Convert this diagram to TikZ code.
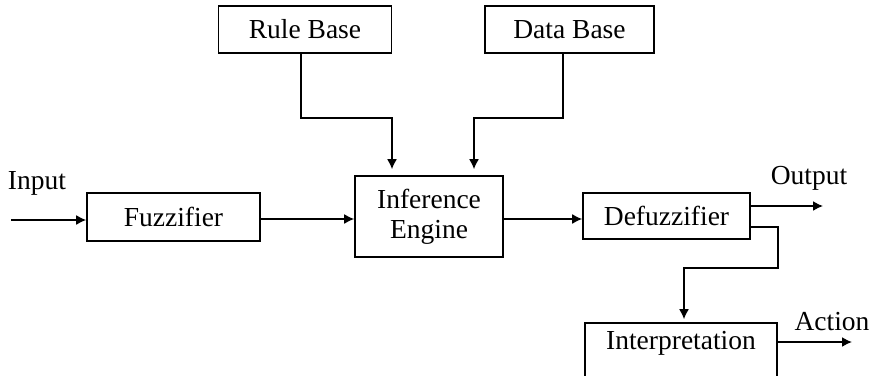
\documentclass[tikz,border=0pt]{standalone}
\usepackage{fontspec}
\setmainfont{Liberation Serif}
\usetikzlibrary{arrows.meta}
\begin{document}
\begin{tikzpicture}[x=1pt,y=-1pt,
  blk/.style={draw,line width=1.6pt,inner sep=0pt,align=center,
    font=\fontsize{27.5}{30}\selectfont},
  lbl/.style={inner sep=0pt,font=\fontsize{27.5}{30}\selectfont},
  arr/.style={line width=1.6pt,-{Latex[length=10pt,width=10pt]}}]
\useasboundingbox (0,0) rectangle (874,375);
\clip (0,0) rectangle (874,375);

% blocks
\node[blk,minimum width=173,minimum height=47] (rule) at (305,29.5) {Rule Base};
\node[blk,minimum width=169,minimum height=47] (data) at (569.5,29.5) {Data Base};
\node[blk,minimum width=173,minimum height=48] (fuzz) at (173.5,217) {Fuzzifier};
\node[blk,minimum width=148,minimum height=81] (inf) at (429,216.5) {Inference\\Engine};
\node[blk,minimum width=167,minimum height=46] (defuzz) at (666.5,216) {Defuzzifier};
\node[blk,minimum width=192,minimum height=56] (interp) at (681,351) {};
\node[lbl] (interpT) at (681,343) {Interpretation};

% free labels
\node[lbl] (inlbl) at (37,183) {Input};
\node[lbl] (outlbl) at (809,178) {Output};
\node[lbl] (actlbl) at (832,322) {Action};

% helper points
\coordinate (inL) at (11,220);
\coordinate (r1) at (392,118);
\coordinate (d1) at (474,118);
\coordinate (outR) at (823,206);
\coordinate (b1) at (778,227);
\coordinate (b2) at (684,268);
\coordinate (actR) at (852,342);

% connectors
\draw[arr] (inL) -- (inL -| fuzz.west);
\draw[arr] ([yshift=-2pt]fuzz.east) -- ([yshift=-2pt]fuzz.east -| inf.west);
\draw[arr] ([yshift=-2.5pt]inf.east) -- ([yshift=-2.5pt]inf.east -| defuzz.west);
\draw[arr,shorten >=6pt] ([xshift=-4pt]rule.south) |- (r1) -- (r1 |- inf.north);
\draw[arr,shorten >=6pt] ([xshift=-6.5pt]data.south) |- (d1) -- (d1 |- inf.north);
\draw[arr] (outR -| defuzz.east) -- (outR);
\draw[arr,shorten >=3pt] (b1 -| defuzz.east) -- (b1) |- (b2) -- (b2 |- interp.north);
\draw[arr] (actR -| interp.east) -- (actR);
\end{tikzpicture}
\end{document}
